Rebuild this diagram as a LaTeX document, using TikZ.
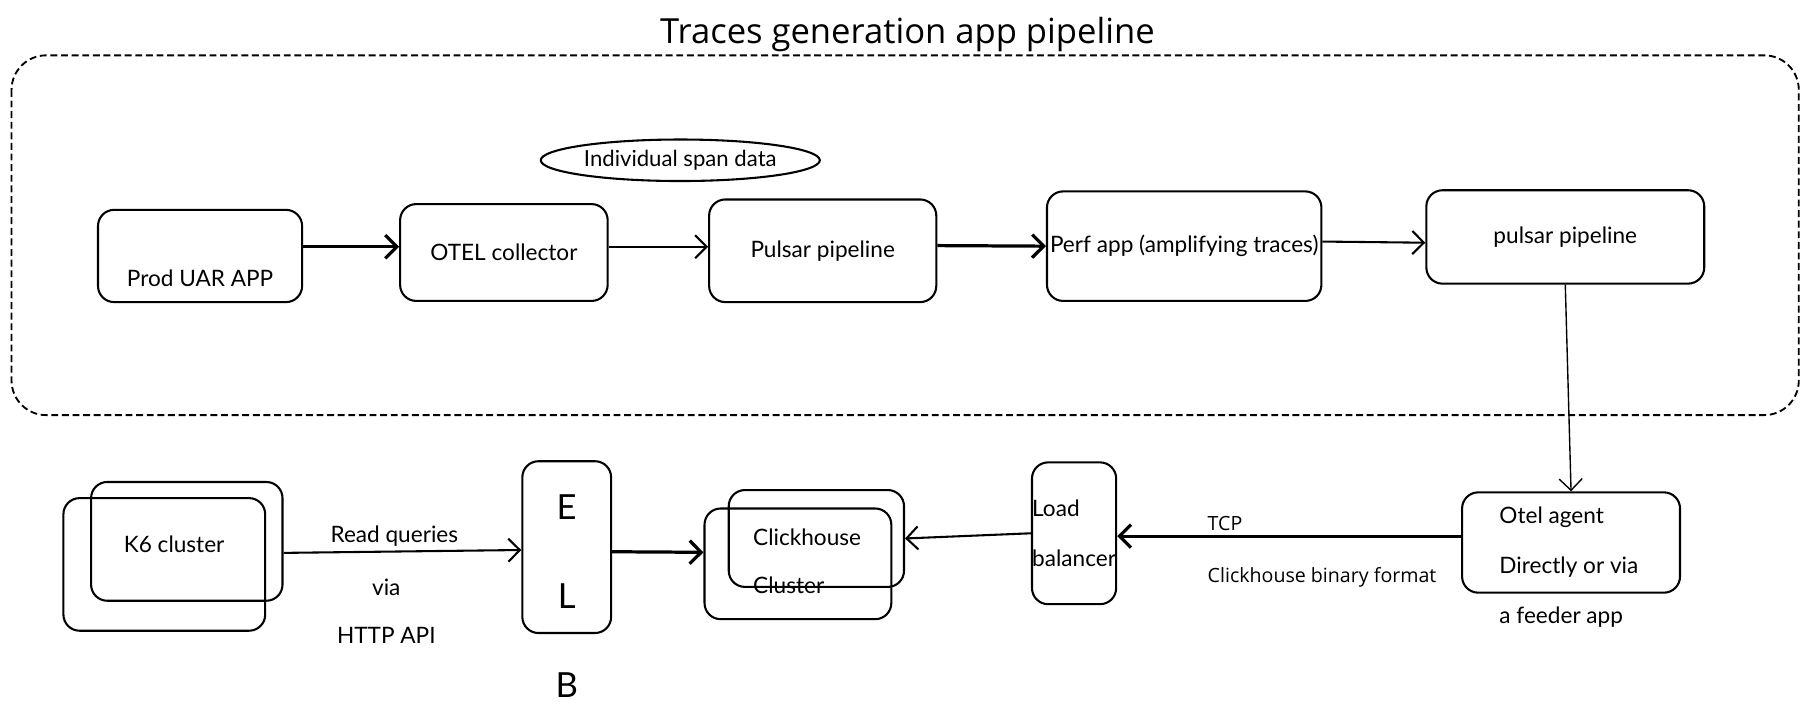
\documentclass[tikz,border=0pt]{standalone}
\usepackage{fontspec}
\setmainfont{Lato}
\newfontfamily\plainfont{Open Sans}
\usetikzlibrary{arrows.meta,positioning,shapes.geometric}

\tikzset{
  box/.style={draw, line width=0.9pt, rounded corners=7pt, align=center, inner sep=1pt,
    font=\fontsize{9.8}{11}\selectfont},
  lbl/.style={font=\fontsize{9.8}{21}\selectfont, align=left, inner sep=0pt},
  flow/.style={-{Straight Barb[length=5pt,width=10pt]}, line width=0.9pt},
  heavy flow/.style={flow, line width=1.4pt},
}

\begin{document}
\begin{tikzpicture}[x=0.5pt,y=-0.5pt]
\useasboundingbox (0,0) rectangle (1568,624.4);

% title and frame
\node[font=\plainfont\fontsize{15}{18}\selectfont] (title) at (787,30) {Traces generation app pipeline};
\draw[line width=0.8pt, dash pattern=on 3pt off 1.6pt, rounded corners=15pt] (10,48) rectangle (1560,360);

% upper row
\node[draw, ellipse, line width=0.9pt, minimum width=121pt, minimum height=18pt, inner sep=0pt,
  font=\fontsize{9.6}{10}\selectfont] (span) at (590,139) {Individual span data};
\node[box, minimum width=88.5pt, minimum height=40pt,
  label={[yshift=-9.5pt, font=\fontsize{9.8}{11}\selectfont]center:Prod UAR APP}] (prod) at (173.5,222) {};
\node[box, minimum width=90pt, minimum height=42pt] (otel) at (437,219) {OTEL collector};
\node[box, minimum width=98.5pt, minimum height=44.5pt] (pulsar) at (713.5,217.5) {Pulsar pipeline};
\node[box, minimum width=119pt, minimum height=47.5pt, inner sep=0pt] (perf) at (1027,213.5) {Perf app (amplifying traces)};
\node[box, minimum width=120.5pt, minimum height=40.5pt] (pulsartwo) at (1357.5,205.5) {pulsar pipeline};

\draw[heavy flow] ([yshift=4pt]prod.east) -- ([yshift=2.5pt]otel.west);
\draw[flow] ([yshift=2.5pt]otel.east) -- ([yshift=1.75pt]pulsar.west);
\draw[heavy flow] ([yshift=2.25pt]pulsar.east) -- (perf.west);
\draw[flow] ([yshift=2pt]perf.east) -- ([yshift=-2.5pt]pulsartwo.west);

% lower row
\node[box, minimum width=87.5pt, minimum height=57.5pt] (kback) at (142.5,489.5) {};
\node[box, minimum width=83pt, minimum height=51.5pt,
  label={[xshift=-5.5pt, yshift=-1.25pt, font=\fontsize{9.8}{11}\selectfont]center:K6 cluster}] (kfront) at (162,469.5) {};
\node[box, minimum width=38.5pt, minimum height=74.5pt] (elb) at (491.5,474.5) {};
\node[font=\fontsize{15}{38.5}\selectfont, align=center, inner sep=0pt] (elbtext) at (491.5,517) {E\\L\\B};
\node[box, minimum width=81pt, minimum height=48pt] (chback) at (692,489) {};
\node[box, minimum width=76pt, minimum height=42pt,
  label={[lbl, xshift=-4pt, yshift=-10pt]center:Clickhouse\\Cluster}] (chfront) at (708,467) {};
\node[box, minimum width=36.5pt, minimum height=61.5pt, align=left, inner sep=0pt,
  font=\fontsize{9.8}{21.5}\selectfont] (lb) at (931.5,462.5) {Load\\balancer};
\node[box, minimum width=94.5pt, minimum height=43.5pt] (agent) at (1362.5,470.5) {};
\node[lbl, font=\fontsize{9.8}{21.75}\selectfont, anchor=west] (agenttext) at (1300,492) {Otel agent\\Directly or via\\a feeder app};

\draw[flow] ([yshift=-5pt]kfront.east) -- ([yshift=-1.25pt]elb.west);
\node[lbl] (readq) at (342,465) {Read queries};
\node[lbl, align=center] (via) at (335,530) {via\\HTTP API};
\draw[heavy flow] ([yshift=-2pt]elb.east) -- ([yshift=5pt]chback.west);
\draw[flow] (lb.west) -- (chfront.east);
\draw[heavy flow] ([yshift=2.75pt]agent.west) -- ([yshift=-1.25pt]lb.east);
\node[font=\plainfont\fontsize{8.5}{10}\selectfont, anchor=west, inner sep=0pt] (tcp) at (1047,454) {TCP};
\node[font=\plainfont\fontsize{8.5}{10}\selectfont, anchor=west, inner sep=0pt] (fmt) at (1047,501) {Clickhouse binary format};
\draw[line width=0.6pt, -{Straight Barb[length=5pt,width=10pt]}] (pulsartwo.south) -- (agent.north);
\end{tikzpicture}
\end{document}
